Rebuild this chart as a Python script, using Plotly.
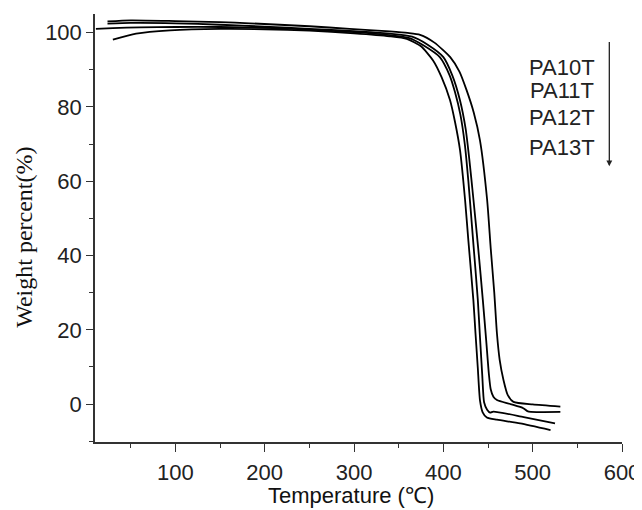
import plotly.graph_objects as go

# ---- data ----
series_names = ["PA10T", "PA11T", "PA12T", "PA13T"]

t_pa10t = [24, 50, 100, 150, 183, 250, 295, 340, 360, 374, 390, 407.7, 418, 426, 434, 441, 449,
           453, 457, 460, 463, 467.3, 472, 478.5, 500, 531]
w_pa10t = [103.0, 103.3, 103.1, 102.8, 102.5, 101.7, 101.0, 100.3, 99.9, 99.4, 97.3, 93.4, 89.5,
           84.5, 78.5, 71, 55, 42, 30, 19, 12, 6.5, 2.5, 0.6, -0.1, -0.7]

t_pa11t = [24, 50, 100, 150, 200, 250, 300, 340, 365, 382, 400, 410, 418.6, 425, 429, 433.7, 439,
           444.2, 448, 451, 453, 456, 460, 475, 489.5, 494, 498, 531]
w_pa11t = [102.4, 102.6, 102.5, 102.1, 101.6, 101.0, 100.4, 99.7, 98.9, 96.8, 93.4, 88.5, 81.8,
           74, 66, 55, 42, 28, 17, 8, 4, 2.0, 1.1, 0.0, -1.1, -1.9, -2.1, -2.1]

t_pa12t = [11, 30, 60, 100, 150, 200, 250, 300, 340, 362, 378, 396, 407, 413, 419, 424, 428, 433,
           438.6, 441, 443.5, 445.6, 449, 452.4, 456, 490, 525]
w_pa12t = [101.0, 101.2, 101.4, 101.5, 101.5, 101.3, 100.8, 100.1, 99.3, 98.5, 96.5, 93.4, 88.5,
           84, 78, 70, 60, 45, 28, 18, 8, 0.5, -1.5, -2.3, -2.0, -3.5, -5.2]

t_pa13t = [30, 56, 94, 150, 200, 250, 300, 340, 359, 375, 388.5, 398, 407.5, 413, 418.7, 424.3,
           428, 433.6, 436, 438.5, 441, 444, 448.7, 460, 486, 520]
w_pa13t = [98.1, 99.7, 100.6, 101.0, 100.9, 100.5, 99.8, 99.0, 98.3, 96.3, 92.5, 88, 81.8, 76,
           68.3, 55, 44, 28, 19, 10, 1, -2.2, -3.6, -4.2, -5.2, -7.0]

series_t = [t_pa10t, t_pa11t, t_pa12t, t_pa13t]
series_w = [w_pa10t, w_pa11t, w_pa12t, w_pa13t]

x_title = "Temperature (℃)"
y_title = "Weight percent(%)"

# ---- figure ----
fig = go.Figure()
for name, t, w in zip(series_names, series_t, series_w):
    fig.add_trace(go.Scatter(
        x=t, y=w, mode="lines", name=name, showlegend=False,
        line=dict(color="black", width=1.8, shape="spline", smoothing=0.6),
    ))

axis_color = "#333333"
# page body has an 8px default margin, compensated here
fig.update_layout(
    width=642, height=510,
    margin=dict(l=87, r=28, t=6, b=76),
    plot_bgcolor="white", paper_bgcolor="white",
    font=dict(family="Liberation Sans, Arial, sans-serif", size=22, color="#222222"),
)
fig.update_xaxes(
    range=[10, 600], tick0=0, dtick=100,
    ticks="outside", ticklen=8, tickwidth=1.3, tickcolor=axis_color,
    ticklabelstandoff=2,
    showline=True, linecolor=axis_color, linewidth=1.5,
    showgrid=False, zeroline=False,
    minor=dict(ticks="outside", ticklen=4, tickwidth=1.3, tickcolor=axis_color, dtick=50, tick0=0),
)
fig.update_yaxes(
    range=[-10.2, 105], tick0=0, dtick=20,
    ticks="outside", ticklen=7, tickwidth=1.3, tickcolor=axis_color,
    showline=True, linecolor=axis_color, linewidth=1.5,
    showgrid=False, zeroline=False,
    minor=dict(ticks="outside", ticklen=4, tickwidth=1.3, tickcolor=axis_color, dtick=10, tick0=0),
)

# axis titles
fig.add_annotation(text=x_title, xref="paper", yref="paper", x=0.486, y=-0.125,
                   showarrow=False, xanchor="center", yanchor="middle",
                   font=dict(size=22, family="Liberation Sans, Arial, sans-serif", color="#111"))
fig.add_annotation(text=y_title, xref="paper", yref="paper", x=-0.134, y=0.478,
                   showarrow=False, textangle=-90, xanchor="center", yanchor="middle",
                   font=dict(size=24, family="Liberation Serif, Times New Roman, serif", color="#111"))

# series labels + arrow
label_y = [90.7, 84.3, 77.1, 69.2]
for name, yy in zip(series_names, label_y):
    fig.add_annotation(text=name, x=532.8, y=yy, xref="x", yref="y", showarrow=False,
                       xanchor="center", yanchor="middle",
                       font=dict(size=22, color="#222"))
fig.add_annotation(x=585.8, y=64.0, ax=585.8, ay=97.9, xref="x", yref="y", axref="x", ayref="y",
                   text="", showarrow=True, arrowhead=2, arrowsize=0.9, arrowwidth=1.3,
                   arrowcolor="#222")

fig.write_html("out.html")
